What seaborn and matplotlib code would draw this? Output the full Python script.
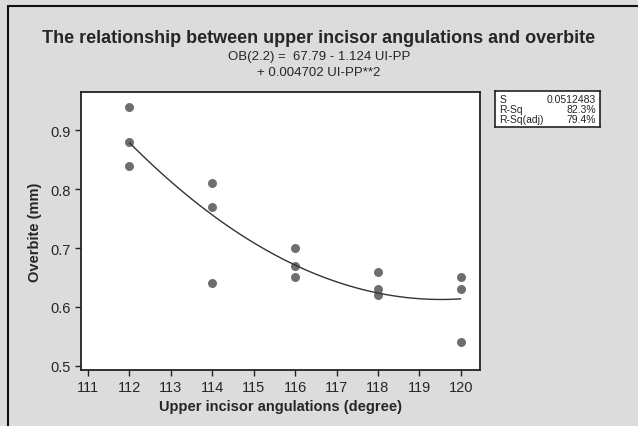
import numpy as np
import pandas as pd
import matplotlib
matplotlib.use("Agg")
import matplotlib.pyplot as plt
import seaborn as sns

# data
angulation = [112, 112, 112, 114, 114, 114, 116, 116, 116, 118, 118, 118, 120, 120, 120]
overbite = [0.94, 0.88, 0.84, 0.81, 0.77, 0.64, 0.70, 0.67, 0.65, 0.66, 0.63, 0.62, 0.65, 0.63, 0.54]
x_ticks = [111, 112, 113, 114, 115, 116, 117, 118, 119, 120]
y_ticks = [0.5, 0.6, 0.7, 0.8, 0.9]
stat_names = ["S", "R-Sq", "R-Sq(adj)"]
stat_values = ["0.0512483", "82.3%", "79.4%"]

df = pd.DataFrame({"UI-PP": angulation, "OB": overbite})

sns.set_style("ticks")
plt.rcParams["font.family"] = ["Liberation Sans", "DejaVu Sans"]

bg = "#dcdcdc"
fig = plt.figure(figsize=(6.38, 4.27), dpi=100, facecolor=bg)
ax = fig.add_axes([0.127, 0.131, 0.625, 0.651])
ax.set_facecolor("white")

sns.regplot(data=df, x="UI-PP", y="OB", order=2, ci=None, ax=ax,
            scatter_kws={"color": "#6e6e6e", "s": 42, "alpha": 1, "linewidths": 0},
            line_kws={"color": "#333333", "lw": 1.0})

ax.set_xlim(110.83, 120.46)
ax.set_ylim(0.4926, 0.965)
ax.set_xticks(x_ticks)
ax.set_yticks(y_ticks)
ax.set_yticklabels([f"{v:.1f}" for v in y_ticks])
ax.tick_params(direction="out", length=4, width=1, labelsize=10.5, color="#222222")
for s in ax.spines.values():
    s.set_visible(True)
    s.set_linewidth(1.3)
    s.set_color("#222222")

ax.set_xlabel("Upper incisor angulations (degree)", fontsize=10.5, fontweight="bold", labelpad=3)
ax.set_ylabel("Overbite (mm)", fontsize=10.5, fontweight="bold", labelpad=6)

# titles
fig.text(0.5, 0.91, "The relationship between upper incisor angulations and overbite",
         ha="center", va="center", fontsize=13, fontweight="bold")
fig.text(0.5, 0.866, "OB(2.2) =  67.79 - 1.124 UI-PP", ha="center", va="center", fontsize=9.5)
fig.text(0.5, 0.828, "+ 0.004702 UI-PP**2", ha="center", va="center", fontsize=9.5)

# summary box
box = fig.add_axes([495 / 638, 1 - 128 / 427, 105 / 638, 36 / 427])
box.set_facecolor("white")
box.set_xticks([])
box.set_yticks([])
for s in box.spines.values():
    s.set_linewidth(1.2)
    s.set_color("#222222")
for i, (n, v) in enumerate(zip(stat_names, stat_values)):
    yy = 0.79 - i * 0.29
    box.text(0.04, yy, n, fontsize=7.5, va="center", ha="left", transform=box.transAxes)
    box.text(0.96, yy, v, fontsize=7.5, va="center", ha="right", transform=box.transAxes)

# frame lines at left and top of the picture
fig.add_artist(plt.Line2D([7.5 / 638, 7.5 / 638], [0, 1 - 7 / 427], color="#111111", lw=1.5))
fig.add_artist(plt.Line2D([7.5 / 638, 1], [1 - 7 / 427, 1 - 7 / 427], color="#111111", lw=1.5))

fig.savefig("out.png", dpi=100, facecolor=bg)
